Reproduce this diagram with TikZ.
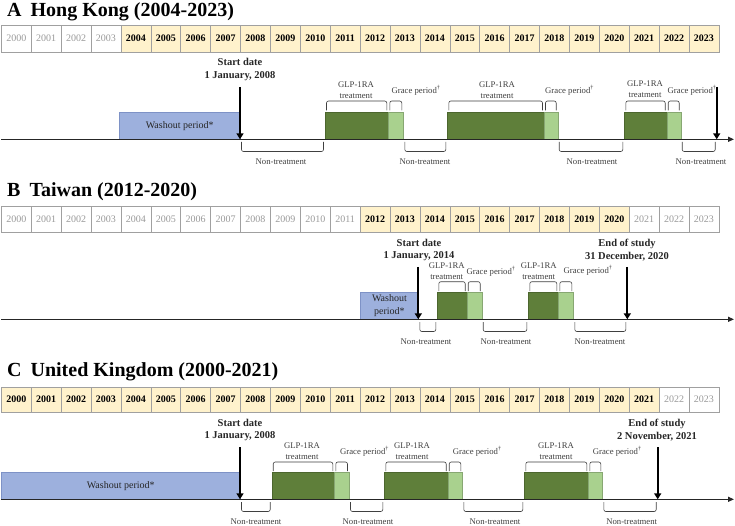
\documentclass[tikz,border=0pt]{standalone}
\usepackage{fontspec}
\setmainfont{Liberation Serif}
\usetikzlibrary{arrows.meta}
\definecolor{yon}{HTML}{FFF2CC}
\definecolor{offgray}{HTML}{9A9A9A}
\definecolor{yrline}{HTML}{A0A0A0}
\definecolor{wfill}{HTML}{9DB0DD}
\definecolor{wline}{HTML}{7E92C6}
\definecolor{dgreen}{HTML}{5F7F3A}
\definecolor{lgreen}{HTML}{A9D18E}
\definecolor{lblgray}{HTML}{404040}
\tikzset{
  yrbox/.style={draw=yrline, line width=0.6pt, minimum width=29.9pt, inner sep=0pt},
  titletxt/.style={font=\fontsize{20}{23}\selectfont\bfseries, inner sep=0pt, anchor=base west},
  datetxt/.style={font=\fontsize{10.5}{12.4}\selectfont\bfseries, text=black!85, align=center, inner sep=0pt},
  lbl/.style={font=\fontsize{8.7}{10.6}\selectfont, text=lblgray, inner sep=0pt},
  twolbl/.style={lbl, align=center},
  wbox/.style={fill=wfill, draw=wline, line width=0.5pt, inner sep=0pt, align=center, font=\fontsize{10}{12.5}\selectfont, text=black!85},
  dbox/.style={fill=dgreen, draw=dgreen!80!black, line width=0.4pt, inner sep=0pt},
  lbox/.style={fill=lgreen, draw=lgreen!80!black, line width=0.4pt, inner sep=0pt},
  brk/.style={draw=lblgray, line width=0.6pt, rounded corners=2pt},
  tline/.style={line width=1.2pt, draw=black!85, -{Triangle[length=6pt,width=5pt]}},
  bigarr/.style={line width=2pt, draw=black, -{Triangle[length=6pt,width=7pt]}},
}
\newcommand{\yrow}[5]{%
  \foreach \i in {0,...,23}{%
    \pgfmathtruncatemacro{\yr}{2000+\i}%
    \ifnum\yr<#4 \def\yfc{white}\def\ytc{offgray}\def\yff{\mdseries}%
    \else\ifnum\yr>#5 \def\yfc{white}\def\ytc{offgray}\def\yff{\mdseries}%
    \else\def\yfc{yon}\def\ytc{black}\def\yff{\bfseries}\fi\fi
    \node[yrbox, fill=\yfc, text=\ytc, font={\fontsize{10}{12}\selectfont\yff}, minimum height=#3pt, anchor=north west] (#1\yr) at ({1+29.9*\i},#2) {\yr};
  }}
\newcommand{\gbox}[7]{%
  \node[#2, anchor=north west, minimum width={(#4-#3)*1pt}, minimum height={(#6-#5)*1pt}] (#1) at (#3,#5) {#7};}
\newcommand{\tbrk}[4]{\draw[brk] ({#1+1.5},#4) |- ({#2-1.5},#3) -- ({#2-1.5},#4);}
\newcommand{\bbrk}[4]{\draw[brk] ({#1+1.5},#3) |- ({#2-1.5},#4) -- ({#2-1.5},#3);}
\begin{document}
\begin{tikzpicture}[x=1pt,y=-1pt]
\useasboundingbox[fill=white] (0,0) rectangle (735,526);
% ================= Panel A =================
\node[titletxt] (tA) at (7,16.9) {A\hspace{0.45em}Hong Kong (2004-2023)};
\yrow{yA}{25}{26.7}{2004}{2023}
\gbox{wA}{wbox}{119}{240}{111.7}{139.3}{Washout period*}
\gbox{dA1}{dbox}{325}{388.3}{111.7}{139.3}{}
\gbox{lA1}{lbox}{388.3}{403.3}{111.7}{139.3}{}
\gbox{dA2}{dbox}{447.3}{544}{111.7}{139.3}{}
\gbox{lA2}{lbox}{544}{557.7}{111.7}{139.3}{}
\gbox{dA3}{dbox}{624.3}{666.7}{111.7}{139.3}{}
\gbox{lA3}{lbox}{666.7}{680.7}{111.7}{139.3}{}
\coordinate (aL) at (1,139.3); \coordinate (aR) at (734,139.3);
\draw[tline] (aL) -- (aR);
\node[datetxt] (sdA) at (240,69.5) {Start date\\1 January, 2008};
\coordinate (sAt) at (240,87); \coordinate (sAb) at (240,139.3);
\draw[bigarr] (sAt) -- (sAb);
\coordinate (eAt) at (716.7,87); \coordinate (eAb) at (716.7,139.3);
\draw[bigarr] (eAt) -- (eAb);
\tbrk{325}{388.3}{101}{110.5} \tbrk{388.3}{403.3}{101}{110.5}
\tbrk{447.3}{544}{101}{110.5} \tbrk{544}{557.7}{101}{110.5}
\tbrk{624.3}{666.7}{101}{110.5} \tbrk{666.7}{680.7}{101}{110.5}
\node[twolbl] (gA1) at (356,90) {GLP-1RA\\treatment};
\node[twolbl] (gA2) at (497,90) {GLP-1RA\\treatment};
\node[twolbl] (gA3) at (645,89) {GLP-1RA\\treatment};
\node[lbl, anchor=west] (rA1) at (391.5,90) {Grace period\textsuperscript{†}};
\node[lbl, anchor=west] (rA2) at (545,90) {Grace period\textsuperscript{†}};
\node[lbl, anchor=west] (rA3) at (667.5,90) {Grace period\textsuperscript{†}};
\bbrk{240}{325}{142}{151.5} \bbrk{403.3}{447.3}{142}{151.5}
\bbrk{557.7}{624.3}{142}{151.5} \bbrk{680.7}{716.7}{142}{151.5}
\node[lbl] (nA1) at (281,162) {Non-treatment};
\node[lbl] (nA2) at (425,162) {Non-treatment};
\node[lbl] (nA3) at (592,162) {Non-treatment};
\node[lbl] (nA4) at (701,162) {Non-treatment};
% ================= Panel B =================
\node[titletxt] (tB) at (7,196.8) {B\hspace{0.45em}Taiwan (2012-2020)};
\yrow{yB}{206}{25.7}{2012}{2020}
\gbox{wB}{wbox}{360}{418.3}{291.7}{319.3}{Washout\\period*}
\gbox{dB1}{dbox}{437.3}{466.7}{291.7}{319.3}{}
\gbox{lB1}{lbox}{466.7}{481.7}{291.7}{319.3}{}
\gbox{dB2}{dbox}{528.3}{558.3}{291.7}{319.3}{}
\gbox{lB2}{lbox}{558.3}{573.3}{291.7}{319.3}{}
\coordinate (bL) at (1,319.3); \coordinate (bR) at (734,319.3);
\draw[tline] (bL) -- (bR);
\node[datetxt] (sdB) at (419,250) {Start date\\1 January, 2014};
\node[datetxt] (edB) at (627,250) {End of study\\31 December, 2020};
\coordinate (sBt) at (418.3,267); \coordinate (sBb) at (418.3,319.3);
\draw[bigarr] (sBt) -- (sBb);
\coordinate (eBt) at (627.3,267); \coordinate (eBb) at (627.3,319.3);
\draw[bigarr] (eBt) -- (eBb);
\tbrk{437.3}{466.7}{281.7}{291} \tbrk{466.7}{481.7}{281.7}{291}
\tbrk{528.3}{558.3}{281.7}{291} \tbrk{558.3}{573.3}{281.7}{291}
\node[twolbl] (gB1) at (446.7,271) {GLP-1RA\\treatment};
\node[twolbl] (gB2) at (538.7,271) {GLP-1RA\\treatment};
\node[lbl, anchor=west] (rB1) at (466.5,271.5) {Grace period\textsuperscript{†}};
\node[lbl, anchor=west] (rB2) at (563.5,270.5) {Grace period\textsuperscript{†}};
\bbrk{418.3}{437.3}{322}{331.5} \bbrk{481.7}{528.3}{322}{331.5}
\bbrk{573.3}{627.3}{322}{331.5}
\node[lbl] (nB1) at (426,341.7) {Non-treatment};
\node[lbl] (nB2) at (506,341.7) {Non-treatment};
\node[lbl] (nB3) at (600,341.7) {Non-treatment};
% ================= Panel C =================
\node[titletxt] (tC) at (7,376.8) {C\hspace{0.45em}United Kingdom (2000-2021)};
\yrow{yC}{386.7}{25}{2000}{2021}
\gbox{wC}{wbox}{1}{240}{472.3}{499.3}{Washout period*}
\gbox{dC1}{dbox}{271.7}{334.3}{472.3}{499.3}{}
\gbox{lC1}{lbox}{334.3}{349}{472.3}{499.3}{}
\gbox{dC2}{dbox}{384.3}{447.7}{472.3}{499.3}{}
\gbox{lC2}{lbox}{447.7}{462.3}{472.3}{499.3}{}
\gbox{dC3}{dbox}{524.3}{588.3}{472.3}{499.3}{}
\gbox{lC3}{lbox}{588.3}{602.3}{472.3}{499.3}{}
\coordinate (cL) at (1,499.3); \coordinate (cR) at (734,499.3);
\draw[tline] (cL) -- (cR);
\node[datetxt] (sdC) at (240,430) {Start date\\1 January, 2008};
\node[datetxt] (edC) at (657,430) {End of study\\2 November, 2021};
\coordinate (sCt) at (240,447.3); \coordinate (sCb) at (240,499.3);
\draw[bigarr] (sCt) -- (sCb);
\coordinate (eCt) at (657.7,447.3); \coordinate (eCb) at (657.7,499.3);
\draw[bigarr] (eCt) -- (eCb);
\tbrk{271.7}{334.3}{462}{471} \tbrk{334.3}{349}{462}{471}
\tbrk{384.3}{447.7}{462}{471} \tbrk{447.7}{462.3}{462}{471}
\tbrk{524.3}{588.3}{462}{471} \tbrk{588.3}{602.3}{462}{471}
\node[twolbl] (gC1) at (302,451) {GLP-1RA\\treatment};
\node[twolbl] (gC2) at (412,451) {GLP-1RA\\treatment};
\node[twolbl] (gC3) at (556,451) {GLP-1RA\\treatment};
\node[lbl, anchor=west] (rC1) at (340,451) {Grace period\textsuperscript{†}};
\node[lbl, anchor=west] (rC2) at (452.7,451) {Grace period\textsuperscript{†}};
\node[lbl, anchor=west] (rC3) at (592.7,451) {Grace period\textsuperscript{†}};
\bbrk{240}{271.7}{502}{511.5} \bbrk{349}{384.3}{502}{511.5}
\bbrk{462.3}{524.3}{502}{511.5} \bbrk{602.3}{657.7}{502}{511.5}
\node[lbl] (nC1) at (256,521.5) {Non-treatment};
\node[lbl] (nC2) at (368,521.5) {Non-treatment};
\node[lbl] (nC3) at (495,521.5) {Non-treatment};
\node[lbl] (nC4) at (631.7,521.5) {Non-treatment};
\end{tikzpicture}
\end{document}
